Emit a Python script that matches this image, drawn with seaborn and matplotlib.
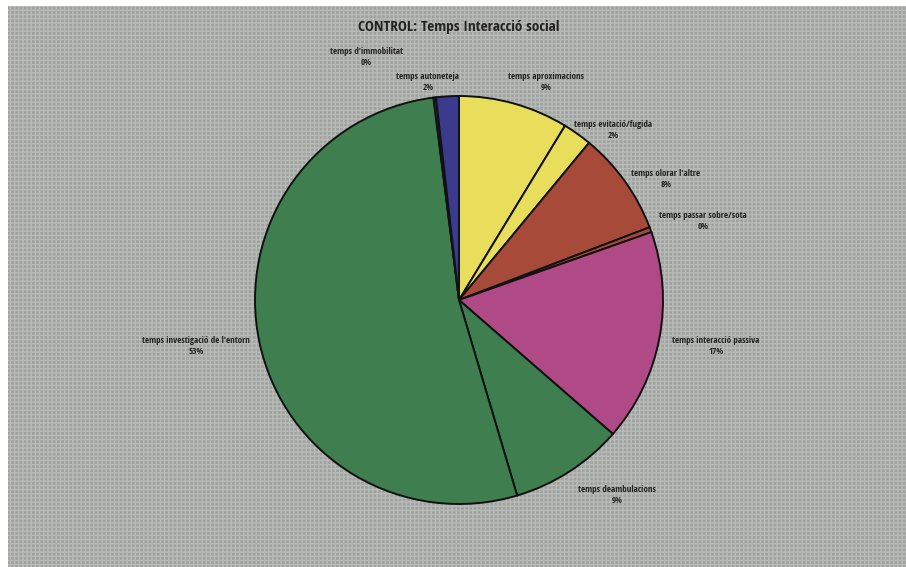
import matplotlib
matplotlib.use("Agg")
import matplotlib.pyplot as plt
from matplotlib.patches import Rectangle
import seaborn as sns

# Share of time spent in each behaviour (control group)
categories = [
    "temps aproximacions",
    "temps evitació/fugida",
    "temps olorar l'altre",
    "temps passar sobre/sota",
    "temps interacció passiva",
    "temps deambulacions",
    "temps investigació de l'entorn",
    "temps d'immobilitat",
    "temps autoneteja",
]
values = [8.7, 2.3, 8.2, 0.4, 16.8, 9.0, 52.6, 0.2, 1.8]
colors = ["#e9dd5c", "#e9dd5c", "#a84a3a", "#a84a3a", "#b04a86",
          "#3f7e4f", "#3f7e4f", "#3b3a8c", "#3b3a8c"]
# label anchor points, in pie-radius units
label_pos = [(0.426, 1.069), (0.755, 0.833), (1.015, 0.593), (1.196, 0.387),
             (1.26, -0.225), (0.775, -0.956), (-1.289, -0.225),
             (-0.456, 1.19), (-0.152, 1.069)]

sns.set_theme(style="white")
plt.rcParams["font.family"] = ["Open Sans Condensed", "DejaVu Sans"]

W, H, DPI = 906, 567, 100
fig = plt.figure(figsize=(W / DPI, H / DPI), dpi=DPI, facecolor="white")

# textured grey chart area, behind everything
bg_ax = fig.add_axes([0, 0, 1, 1], zorder=-5)
bg_ax.axis("off")
bg_ax.add_patch(Rectangle((8 / W, 0), 1 - 8 / W, 1 - 6 / H,
                          transform=bg_ax.transAxes, facecolor="#9fa39f",
                          edgecolor="#b7bab7", hatch="++++", linewidth=0))

ax = fig.add_axes([0, 0, 1, 1], zorder=1)
ax.set_facecolor("none")

cx, cy, r = 459, 300, 204
wedges, _ = ax.pie(values, colors=colors, startangle=90, counterclock=False,
                   wedgeprops=dict(edgecolor="#111111", linewidth=1.4))
ax.set_xlim((0 - cx) / r, (W - cx) / r)
ax.set_ylim((cy - H) / r, cy / r)
ax.set_aspect("equal", adjustable="box")
ax.axis("off")

for name, v, (x, y) in zip(categories, values, label_pos):
    ax.text(x, y, f"{name}\n{v:.0f}%", ha="center", va="center",
            fontsize=6.5, fontweight="bold", color="#222222", linespacing=1.25)

ax.text(0, (cy - 27) / r, "CONTROL: Temps Interacció social", ha="center",
        va="center", fontsize=11, fontweight="bold", color="#222222")

fig.savefig("out.png", dpi=DPI, facecolor="white")
